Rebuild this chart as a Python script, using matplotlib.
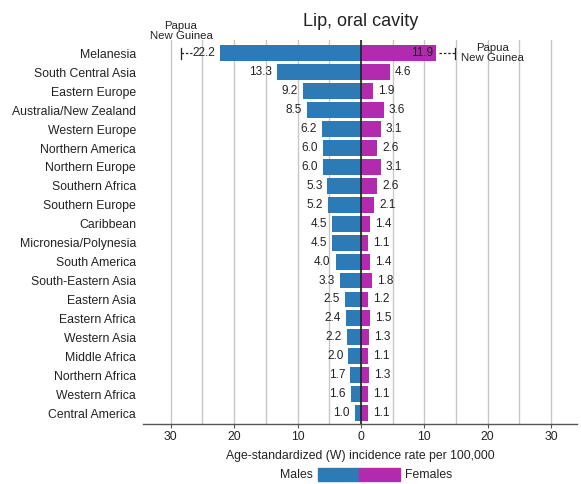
import matplotlib
matplotlib.use("Agg")
import matplotlib.pyplot as plt
from matplotlib.patches import Rectangle

regions = ["Melanesia", "South Central Asia", "Eastern Europe", "Australia/New Zealand",
           "Western Europe", "Northern America", "Northern Europe", "Southern Africa",
           "Southern Europe", "Caribbean", "Micronesia/Polynesia", "South America",
           "South-Eastern Asia", "Eastern Asia", "Eastern Africa", "Western Asia",
           "Middle Africa", "Northern Africa", "Western Africa", "Central America"]
males = [22.2, 13.3, 9.2, 8.5, 6.2, 6.0, 6.0, 5.3, 5.2, 4.5, 4.5, 4.0, 3.3, 2.5,
         2.4, 2.2, 2.0, 1.7, 1.6, 1.0]
females = [11.9, 4.6, 1.9, 3.6, 3.1, 2.6, 3.1, 2.6, 2.1, 1.4, 1.1, 1.4, 1.8, 1.2,
           1.5, 1.3, 1.1, 1.3, 1.1, 1.1]
# Highest national rate within the top region (Papua New Guinea)
top_country = "Papua\nNew Guinea"
top_male = 28.4
top_female = 14.9
xticks = [-30, -20, -10, 0, 10, 20, 30]
xticklabels = ["30", "20", "10", "0", "10", "20", "30"]

BLUE = "#2C7BB6"
MAGENTA = "#B22BAE"
TXT = "#222222"

plt.rcParams["font.family"] = ["Liberation Sans", "DejaVu Sans"]

fig = plt.figure(figsize=(5.81, 4.84), dpi=100)
ax = fig.add_axes([0.246, 0.124, 0.747, 0.793])

y = list(range(len(regions)))
ax.barh(y, [-m for m in males], height=0.84, color=BLUE, zorder=2)
ax.barh(y, females, height=0.84, color=MAGENTA, zorder=2)

ax.set_xlim(-34.4, 34.1)
ax.set_ylim(19.58, -0.7)

for gx in range(-30, 31, 5):
    ax.axvline(gx, color="#c8c8c8", lw=1.0, zorder=1)
ax.axvline(0, color="#222222", lw=1.2, zorder=3)

fs = 8.5
for i, (m, f) in enumerate(zip(males, females)):
    ax.annotate(f"{m:.1f}", (-m, i), xytext=(-3.5, 0), textcoords="offset points",
                ha="right", va="center", fontsize=fs, color=TXT, zorder=4)
    if i == 0:
        ax.annotate(f"{f:.1f}", (f, i), xytext=(-2.5, 0), textcoords="offset points",
                    ha="right", va="center", fontsize=fs, color=TXT, zorder=4)
    else:
        ax.annotate(f"{f:.1f}", (f, i), xytext=(3.5, 0), textcoords="offset points",
                    ha="left", va="center", fontsize=fs, color=TXT, zorder=4)

# Range markers for the top country in Melanesia
ax.plot([-top_male, -26.7], [0, 0], ls=(0, (2, 1.5)), color=TXT, lw=0.9, zorder=4)
ax.plot([-top_male, -top_male], [-0.3, 0.3], color=TXT, lw=0.9, zorder=4)
ax.plot([females[0] + 0.5, top_female], [0, 0], ls=(0, (2, 1.5)), color=TXT, lw=0.9, zorder=4)
ax.plot([top_female, top_female], [-0.3, 0.3], color=TXT, lw=0.9, zorder=4)
ax.annotate(top_country, (-top_male, 0), xytext=(0, 9), textcoords="offset points",
            ha="center", va="bottom", fontsize=8.2, color=TXT, linespacing=1.0,
            annotation_clip=False)
ax.annotate(top_country, (top_female, 0), xytext=(26.5, 0), textcoords="offset points",
            ha="center", va="center", fontsize=8.2, color=TXT, linespacing=1.0,
            annotation_clip=False)

ax.set_yticks(y)
ax.set_yticklabels(regions, fontsize=8.8, color=TXT)
ax.tick_params(axis="y", length=0, pad=5)
ax.set_xticks(xticks)
ax.set_xticklabels(xticklabels, fontsize=8.8, color=TXT)
ax.tick_params(axis="x", length=3, color="#555555", pad=2)

for s in ["top", "left", "right"]:
    ax.spines[s].set_visible(False)
ax.spines["bottom"].set_color("#555555")
ax.spines["bottom"].set_linewidth(1.0)

ax.set_xlabel("Age-standardized (W) incidence rate per 100,000", fontsize=8.8, color=TXT, labelpad=5)
fig.text(0.62, 0.956, "Lip, oral cavity", ha="center", va="center", fontsize=13, color=TXT)

# Legend: two adjacent colour blocks with labels on either side
lw_, lh_ = 41 / 581, 13 / 484
lx0, ly0 = 318 / 581, 1 - 481 / 484
fig.add_artist(Rectangle((lx0, ly0), lw_, lh_, transform=fig.transFigure, color=BLUE))
fig.add_artist(Rectangle((lx0 + lw_, ly0), lw_, lh_, transform=fig.transFigure, color=MAGENTA))
fig.text(lx0 - 0.008, ly0 + lh_ / 2, "Males", ha="right", va="center", fontsize=8.8, color=TXT)
fig.text(lx0 + 2 * lw_ + 0.008, ly0 + lh_ / 2, "Females", ha="left", va="center", fontsize=8.8, color=TXT)

fig.savefig("out.png", dpi=100, facecolor="white")
